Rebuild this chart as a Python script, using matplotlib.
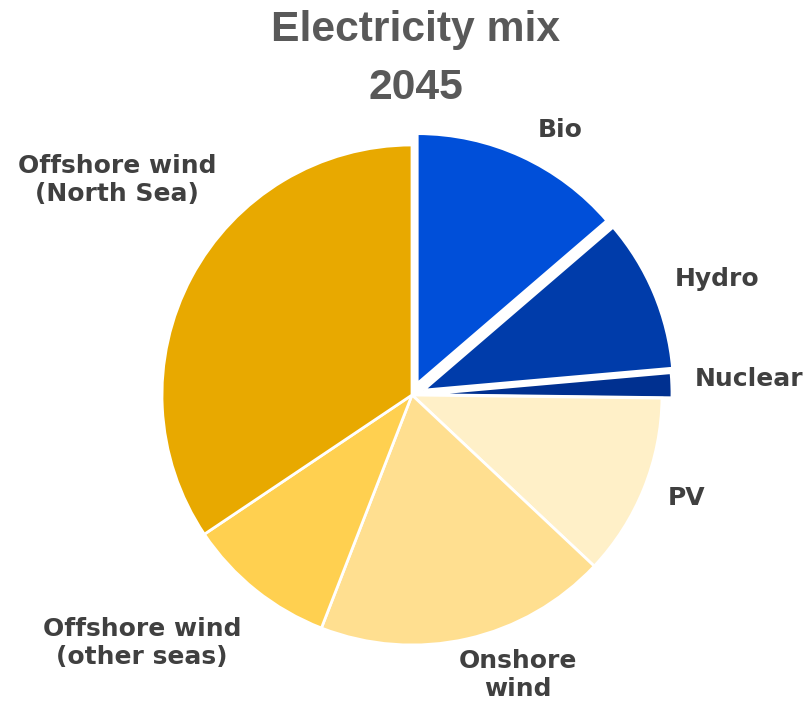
import matplotlib
matplotlib.use("Agg")
from matplotlib import pyplot as plt
from matplotlib import font_manager

# shares in percent, read clockwise from 12 o'clock
sources = ["Bio", "Hydro", "Nuclear", "PV", "Onshore\nwind",
           "Offshore wind\n(other seas)", "Offshore wind\n(North Sea)"]
shares = [13.7, 9.9, 1.6, 11.8, 18.9, 9.7, 34.4]
colours = ["#004FD9", "#003CAA", "#003090", "#FFF0C8", "#FFDF90", "#FFD050", "#E8A900"]
explode = [0.05, 0.05, 0.04, 0, 0, 0, 0]

# label spots in pixels of the 812x703 picture
label_px = [(560, 130), (717, 279), (749, 379), (687, 498), (518, 675), (142, 643), (117, 180)]

W, H = 812, 703
cx, cy, R = 412, 395, 250

# pick the plain (not narrow) bold Liberation Sans file for the title
title_font = None
for f in font_manager.fontManager.ttflist:
    if f.name == "Liberation Sans" and f.weight in (700, "bold") and f.style == "normal" \
            and "Narrow" not in f.fname:
        title_font = font_manager.FontProperties(fname=f.fname, size=30.7)
        break
if title_font is None:
    title_font = font_manager.FontProperties(family="Liberation Sans", weight="bold", size=30.7)

fig = plt.figure(figsize=(W / 100, H / 100), dpi=100)
ax = fig.add_axes([0, 0, 1, 1])

wedges, _ = ax.pie(shares, colors=colours, explode=explode, startangle=90,
                   counterclock=False, radius=1,
                   wedgeprops=dict(edgecolor="white", linewidth=2))

def to_data(px, py):
    return (px - cx) / R, (cy - py) / R

for name, (px, py) in zip(sources, label_px):
    x, y = to_data(px, py)
    ax.text(x, y, name, ha="center", va="center", fontsize=18, fontweight="bold",
            color="#404040", family="DejaVu Sans", linespacing=1.25)

tx, ty = to_data(416, 30)
ax.text(tx, ty, "Electricity mix", ha="center", va="center",
        fontproperties=title_font, color="#595959")
tx, ty = to_data(416, 88)
ax.text(tx, ty, "2045", ha="center", va="center",
        fontproperties=title_font, color="#595959")

ax.set_xlim(-cx / R, (W - cx) / R)
ax.set_ylim((cy - H) / R, cy / R)
ax.set_aspect("equal")
ax.axis("off")

fig.savefig("out.png", dpi=100)
